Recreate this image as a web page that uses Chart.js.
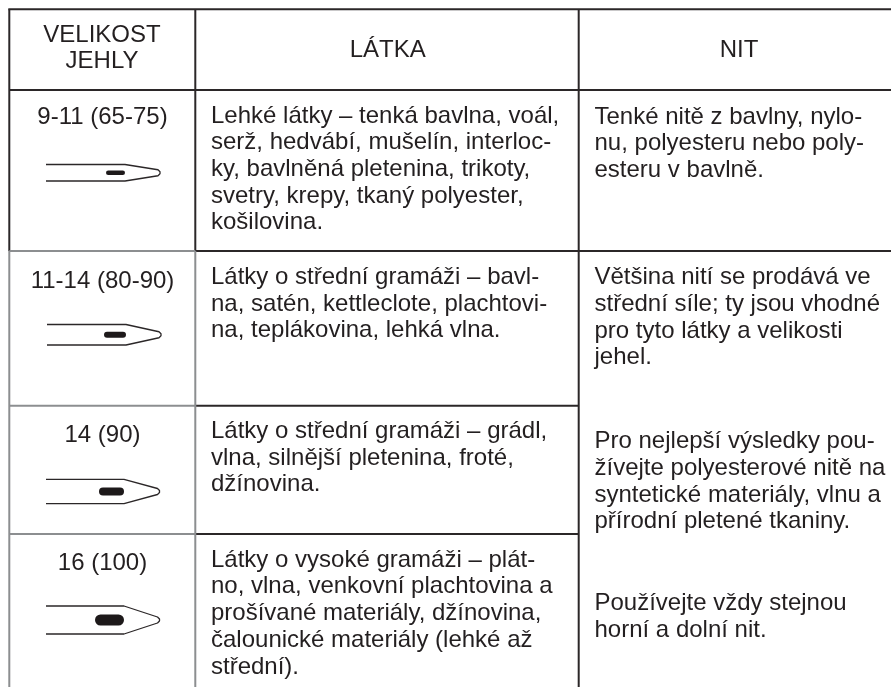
<!DOCTYPE html>
<html>
<head>
<meta charset="utf-8">
<style>
  html, body { margin: 0; padding: 0; background: #fff; }
  #wrap { width: 891px; height: 687px; }
  canvas { filter: blur(0.3px); }
</style>
<script src="https://cdn.jsdelivr.net/npm/chart.js@4/dist/chart.umd.min.js"></script>
</head>
<body>
<div id="wrap"><canvas id="tabulka"></canvas></div>
<script>
// obsah tabulky
const headers = [['VELIKOST', 'JEHLY'], ['LÁTKA'], ['NIT']];
const needleSizes = ['9-11 (65-75)', '11-14 (80-90)', '14 (90)', '16 (100)'];
const fabrics = [
    ['Lehké látky – tenká bavlna, voál,', 'serž, hedvábí, mušelín, interloc-', 'ky, bavlněná pletenina, trikoty,', 'svetry, krepy, tkaný polyester,', 'košilovina.'],
    ['Látky o střední gramáži – bavl-', 'na, satén, kettleclote, plachtovi-', 'na, teplákovina, lehká vlna.'],
    ['Látky o střední gramáži – grádl,', 'vlna, silnější pletenina, froté,', 'džínovina.'],
    ['Látky o vysoké gramáži – plát-', 'no, vlna, venkovní plachtovina a', 'prošívané materiály, džínovina,', 'čalounické materiály (lehké až', 'střední).']
];
const threads = [
    ['Tenké nitě z bavlny, nylo-', 'nu, polyesteru nebo poly-', 'esteru v bavlně.'],
    ['Většina nití se prodává ve', 'střední síle; ty jsou vhodné', 'pro tyto látky a velikosti', 'jehel.'],
    ['Pro nejlepší výsledky pou-', 'žívejte polyesterové nitě na', 'syntetické materiály, vlnu a', 'přírodní pletené tkaniny.'],
    ['Používejte vždy stejnou', 'horní a dolní nit.']
];

// rozlozeni v pixelech stranky
const colX = [9.3, 195.3, 578.7, 891];
const rowY = [9.3, 90, 251, 405.8, 534, 687];
const sizeBase = [123.5, 288, 441.7, 570];
const fabricBase = [122.5, 284, 438, 566.7];
const threadBase = [123.5, 284.3, 448.2, 610];
const needles = [
    { x0: 46, sh: 125, tip: 160, top: 164.5, bottom: 181, eye0: 106, eye1: 125, eyeH: 4.5 },
    { x0: 47, sh: 126, tip: 161, top: 324.5, bottom: 345, eye0: 104, eye1: 126, eyeH: 6 },
    { x0: 46, sh: 124, tip: 159.5, top: 479.3, bottom: 503.7, eye0: 99, eye1: 124, eyeH: 8 },
    { x0: 46, sh: 124, tip: 159.5, top: 606, bottom: 634, eye0: 95, eye1: 124, eyeH: 11 }
];

const DARK = '#2b2728';
const GRAY = '#8c8e90';
const INK = '#231f20';
const FONT = '24px "Liberation Sans", Arial, sans-serif';
const LH = 26.7;

function seg(x1, y1, x2, y2, color, w) {
    return {
        data: [{ x: x1, y: y1 }, { x: x2, y: y2 }],
        showLine: true, borderColor: color, borderWidth: w,
        pointRadius: 0, borderCapStyle: 'butt'
    };
}

const datasets = [
    // seda cast vlevo dole
    seg(colX[0], rowY[2], colX[1], rowY[2], GRAY, 2),
    seg(colX[0], rowY[3], colX[1], rowY[3], GRAY, 2),
    seg(colX[0], rowY[4], colX[1], rowY[4], GRAY, 2),
    seg(colX[0], rowY[2], colX[0], rowY[5], GRAY, 2),
    seg(colX[1], rowY[2], colX[1], rowY[5], GRAY, 2),
    // tmave cary
    seg(colX[0] - 1, rowY[0], colX[3], rowY[0], DARK, 2),
    seg(colX[0], rowY[1], colX[3], rowY[1], DARK, 2),
    seg(colX[1], rowY[2], colX[3], rowY[2], DARK, 2),
    seg(colX[1], rowY[3], colX[2], rowY[3], DARK, 2),
    seg(colX[1], rowY[4], colX[2], rowY[4], DARK, 2),
    seg(colX[0], rowY[0], colX[0], rowY[2], DARK, 2),
    seg(colX[1], rowY[0], colX[1], rowY[2], DARK, 2),
    seg(colX[2], rowY[0], colX[2], rowY[5], DARK, 2)
];

needles.forEach(n => {
    const cy = (n.top + n.bottom) / 2;
    datasets.push({
        data: [
            { x: n.x0, y: n.top }, { x: n.sh, y: n.top },
            { x: n.tip - 2, y: cy - 3 }, { x: n.tip, y: cy - 1 }, { x: n.tip, y: cy + 1 }, { x: n.tip - 2, y: cy + 3 },
            { x: n.sh, y: n.bottom }, { x: n.x0, y: n.bottom }
        ],
        showLine: true, borderColor: DARK, borderWidth: 1.3, pointRadius: 0, borderJoinStyle: 'round'
    });
    datasets.push({
        data: [{ x: n.eye0 + n.eyeH / 2, y: cy }, { x: n.eye1 - n.eyeH / 2, y: cy }],
        showLine: true, borderColor: '#1d191a', borderWidth: n.eyeH, pointRadius: 0, borderCapStyle: 'round'
    });
});

const textPlugin = {
    id: 'tableText',
    afterDatasetsDraw(chart) {
        const { ctx, scales: { x, y } } = chart;
        const put = (line, px, py, align) => {
            ctx.textAlign = align;
            ctx.fillText(line, x.getPixelForValue(px), y.getPixelForValue(py));
        };
        ctx.save();
        ctx.font = FONT;
        ctx.fillStyle = INK;
        ctx.textBaseline = 'alphabetic';
        put(headers[0][0], 102, 41.7, 'center');
        put(headers[0][1], 102, 68.3, 'center');
        put(headers[1][0], 387.7, 57, 'center');
        put(headers[2][0], 739, 57.3, 'center');
        needleSizes.forEach((s, i) => put(s, 102.5, sizeBase[i], 'center'));
        fabrics.forEach((lines, i) => lines.forEach((l, j) => put(l, 211, fabricBase[i] + j * LH, 'left')));
        threads.forEach((lines, i) => lines.forEach((l, j) => put(l, 594.5, threadBase[i] + j * LH, 'left')));
        ctx.restore();
    }
};

new Chart(document.getElementById('tabulka'), {
    type: 'scatter',
    data: { datasets },
    plugins: [textPlugin],
    options: {
        responsive: true,
        maintainAspectRatio: false,
        animation: false,
        layout: { padding: 0 },
        plugins: { legend: { display: false }, tooltip: { enabled: false } },
        scales: {
            x: { type: 'linear', min: 0, max: 891, display: false },
            y: { type: 'linear', min: 0, max: 687, reverse: true, display: false }
        }
    }
});
</script>
</body>
</html>
